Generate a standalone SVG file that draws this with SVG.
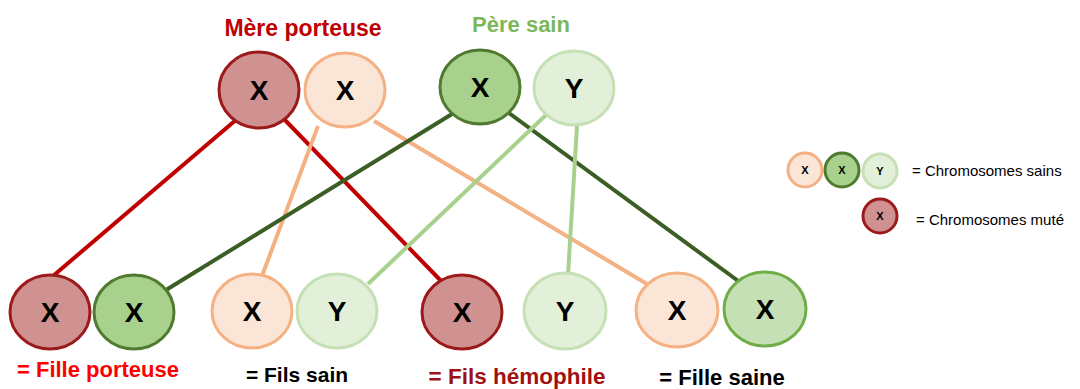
<svg xmlns="http://www.w3.org/2000/svg" width="1080" height="389" viewBox="0 0 1080 389">
  <style>
    .lbl { font-family: "Liberation Sans", Arial, sans-serif; font-weight: bold; text-anchor: middle; }
    .chr { font-size: 28px; fill: #000; }
    .chrS { font-size: 11px; fill: #000; }
    .leg { font-family: "Liberation Sans", Arial, sans-serif; font-size: 15px; fill: #000; }
    .mut { fill: #D09191; stroke: #9C1A1A; stroke-width: 3; }
    .orng { fill: #FBE5D6; stroke: #F4B183; stroke-width: 3; }
    .grnD { fill: #A9D18E; stroke: #4F7A30; stroke-width: 3; }
    .grnM { fill: #C5E0B4; stroke: #70AD47; stroke-width: 3; }
    .grnL { fill: #E2F0D9; stroke: #C5E0B4; stroke-width: 3; }
    .ln { stroke-width: 4; fill: none; stroke-linecap: butt; }
  </style>

  <!-- inheritance connectors -->
  <g id="connectors">
    <line class="ln" x1="237" y1="119" x2="53" y2="276" stroke="#C00000"/>
    <line class="ln" x1="283" y1="118" x2="444" y2="284" stroke="#C00000"/>
    <line class="ln" x1="318" y1="126" x2="262" y2="276" stroke="#F4B183"/>
    <line class="ln" x1="374" y1="121" x2="647" y2="284" stroke="#F4B183"/>
    <line class="ln" x1="452" y1="114" x2="166" y2="290" stroke="#3B5E25"/>
    <line class="ln" x1="509" y1="113" x2="741" y2="283" stroke="#3B5E25"/>
    <line class="ln" x1="546" y1="115" x2="368" y2="284" stroke="#A9D18E"/>
    <line class="ln" x1="577" y1="126" x2="568" y2="275" stroke="#A9D18E"/>
  </g>

  <!-- parents -->
  <g id="mere">
    <text class="lbl" x="303" y="36" font-size="23" fill="#C00000">Mère porteuse</text>
    <g id="mere-x-mute">
      <ellipse class="mut" cx="259" cy="90" rx="40" ry="38"/>
      <text class="lbl chr" x="259" y="100">X</text>
    </g>
    <g id="mere-x-sain">
      <ellipse class="orng" cx="345" cy="90" rx="40" ry="37"/>
      <text class="lbl chr" x="345" y="100">X</text>
    </g>
  </g>
  <g id="pere">
    <text class="lbl" x="521" y="32" font-size="22" fill="#7CB85A">Père sain</text>
    <g id="pere-x">
      <ellipse class="grnD" cx="480" cy="87" rx="40" ry="37"/>
      <text class="lbl chr" x="480" y="97">X</text>
    </g>
    <g id="pere-y">
      <ellipse class="grnL" cx="574" cy="88" rx="40" ry="37"/>
      <text class="lbl chr" x="574" y="98">Y</text>
    </g>
  </g>

  <!-- children -->
  <g id="fille-porteuse">
    <ellipse class="mut" cx="50" cy="312" rx="40" ry="37"/>
    <text class="lbl chr" x="50" y="322">X</text>
    <ellipse class="grnD" cx="134" cy="312" rx="40" ry="37"/>
    <text class="lbl chr" x="134" y="322">X</text>
    <text class="lbl" x="98" y="377" font-size="22" fill="#FF0000">= Fille porteuse</text>
  </g>
  <g id="fils-sain">
    <ellipse class="orng" cx="252" cy="311" rx="40" ry="37"/>
    <text class="lbl chr" x="252" y="321">X</text>
    <ellipse class="grnL" cx="337" cy="311" rx="40" ry="37"/>
    <text class="lbl chr" x="337" y="321">Y</text>
    <text class="lbl" x="297" y="382" font-size="21" fill="#000">= Fils sain</text>
  </g>
  <g id="fils-hemophile">
    <ellipse class="mut" cx="462" cy="312" rx="40" ry="37"/>
    <text class="lbl chr" x="462" y="322">X</text>
    <ellipse class="grnL" cx="565" cy="311" rx="41" ry="38"/>
    <text class="lbl chr" x="565" y="321">Y</text>
    <text class="lbl" x="517" y="384" font-size="22.5" fill="#A01010">= Fils hémophile</text>
  </g>
  <g id="fille-saine">
    <ellipse class="orng" cx="677" cy="310" rx="41" ry="37"/>
    <text class="lbl chr" x="677" y="320">X</text>
    <ellipse class="grnM" cx="765" cy="309" rx="41" ry="37"/>
    <text class="lbl chr" x="765" y="319">X</text>
    <text class="lbl" x="722" y="385" font-size="22" fill="#000">= Fille saine</text>
  </g>

  <!-- legend -->
  <g id="legende-sains">
    <circle class="orng" cx="805" cy="170" r="17" stroke-width="2"/>
    <text class="lbl chrS" x="805" y="174">X</text>
    <circle class="grnD" cx="842" cy="170" r="17" stroke-width="2"/>
    <text class="lbl chrS" x="842" y="174">X</text>
    <circle class="grnL" cx="880" cy="171" r="17" stroke-width="2"/>
    <text class="lbl chrS" x="880" y="175">Y</text>
    <text class="leg" x="912" y="176">= Chromosomes sains</text>
  </g>
  <g id="legende-mute">
    <circle class="mut" cx="880" cy="216" r="17" stroke-width="2"/>
    <text class="lbl chrS" x="880" y="220">X</text>
    <text class="leg" x="916" y="225">= Chromosomes muté</text>
  </g>
</svg>
